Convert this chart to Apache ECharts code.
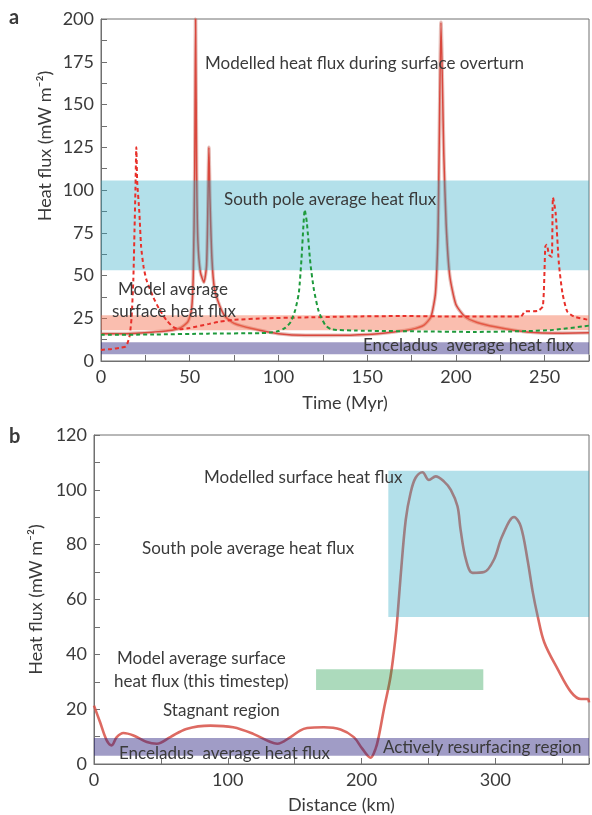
<!DOCTYPE html>
<html>
<head>
<meta charset="utf-8">
<script src="https://cdn.jsdelivr.net/npm/echarts@6/dist/echarts.min.js"></script>
<style>
html,body{margin:0;padding:0;background:#fff;}
#chart{width:592px;height:815px;}
</style>
</head>
<body>
<div id="chart"></div>
<script>
// ---------- Panel a data (Time, Myr / Heat flux, mW m-2) ----------
const aTimeTicks = [0, 50, 100, 150, 200, 250];
const aFluxTicks = [0, 25, 50, 75, 100, 125, 150, 175, 200];
const aOverturn = [
  [0,16],[10,16],[20,16.3],[30,17],[40,18],[45,19.5],[49,23],[51,30],[52,50],[52.8,110],[53.3,200],[53.9,110],
  [54.6,70],[56,52],[58,46],[59.5,56],[60.3,95],[60.8,125],[61.4,95],[62.5,60],[64,42],[67,32],[70,26],
  [75,22],[85,19],[100,16],[115,15],[130,15],[150,15.5],[165,17],[175,18.5],[182,21],[186,26],[188.5,40],
  [190,80],[191.6,198],[193.2,120],[194.5,80],[196.5,50],[200,33],[205,26],[212,22.5],[222,20],
  [240,17],[260,16.3],[275,16.5]
];
const aRedDashed = [
  [0,6.5],[6,7],[11,7.8],[14,8.5],[16,14],[17.2,25],[18.2,47],[18.9,77],[19.4,100],[19.9,125],[20.4,105],
  [21.6,87],[22.6,67],[24,55],[25.6,47.5],[29.3,37.7],[33,30],[36.8,24],[40.5,20],[44.3,18.5],[50,19.3],
  [61,21.7],[66.7,23],[74,24],[93,25],[111.5,25.4],[140,26],[170,26.3],[200,26],[236.6,26],[239,29],
  [246,29.3],[249,32],[250.4,67],[251.2,68],[252.5,62],[254,61],[254.7,95.6],[256.2,86.6],[258,57.4],
  [260,40],[262.7,29],[266.5,26],[275,24]
];
const aGreenDashed = [
  [0,15.3],[30,15.5],[60,16],[90,16.3],[95,16.6],[100,17.5],[104,19.5],[107,23],[109.5,30],[111.5,40],
  [113,60],[114,78],[114.8,88.5],[116,81],[118,57],[120,41.6],[122.7,29],[126.4,21],[130,18.5],[143,17.8],
  [180,17.3],[210,17],[240,17.5],[255,18.2],[275,20.7]
];
// bands: [xStart, xEnd, yLow, yHigh]
const aSouthPoleBand = [0, 275, 53, 105.5];
const aModelAvgBand = [0, 275, 18, 26.7];
const aEnceladusBand = [0, 275, 4, 11];

// ---------- Panel b data (Distance, km / Heat flux, mW m-2) ----------
const bDistTicks = [0, 100, 200, 300];
const bFluxTicks = [0, 20, 40, 60, 80, 100, 120];
const bSurface = [
  [0,21.3],[4.5,15.3],[9.5,8.6],[13.2,6.8],[17,9.8],[22,11.3],[29.5,10.4],[39.5,8],[47,7.4],[57,9.8],
  [69,12.8],[87,14],[104,13.4],[119,11],[132,8],[137,7.4],[146.8,9.8],[154,12.2],[159.3,13.1],[171.8,13.4],
  [184.3,12.6],[194.2,9.8],[200.5,5.6],[206.7,2.3],[210.5,5.6],[213,10.4],[216.7,20],[221.7,32],[225.5,46.7],
  [227.2,56],[229.2,68.5],[233,89],[236.7,99],[240.4,104.4],[245.5,106.4],[250.4,103.6],[255.4,104.9],
  [261.7,103],[266.7,100],[271.7,94],[274,85.5],[278,74.6],[283,69.7],[291.6,70],[299,74.6],[305,83],
  [314,90.1],[319,86.7],[324,74.6],[328,62.6],[331.6,54],[336.6,44.3],[346.6,34.6],[356.6,26.2],[364,23.7],
  [369,23.7],[370,22.5]
];
const bSouthPoleBand = [220, 370, 53.6, 107];
const bModelAvgBand = [166, 291, 27, 34.6];
const bEnceladusBand = [0, 370, 3, 9.5];

const FONT = 'Lato';
const AXIS_COLOR = '#707070';
const TEXT_COLOR = '#3a3a3a';
const Y_NAME = 'Heat flux (mW m\u207B\u00B2)';

function bandSeries(xi, yi, bands, z) {
  return {
    type: 'custom', xAxisIndex: xi, yAxisIndex: yi, z: z, silent: true,
    encode: { x: [0, 1], y: [2, 3] },
    renderItem: function (params, api) {
      const p0 = api.coord([api.value(0), api.value(3)]);
      const p1 = api.coord([api.value(1), api.value(2)]);
      return {
        type: 'rect',
        shape: { x: p0[0], y: p0[1], width: p1[0] - p0[0], height: p1[1] - p0[1] },
        style: api.style()
      };
    },
    data: bands
  };
}

function valueAxis(gi, min, max, interval, labelArr, name, nameGap, pos) {
  return {
    type: 'value', gridIndex: gi, min: min, max: max, interval: interval, position: pos,
    name: name, nameLocation: 'middle', nameGap: nameGap,
    nameTextStyle: { fontFamily: FONT, fontSize: 18, color: TEXT_COLOR },
    axisLine: { show: true, lineStyle: { color: AXIS_COLOR, width: 1 } },
    axisTick: { show: true, inside: true, length: 6, lineStyle: { color: AXIS_COLOR } },
    splitLine: { show: false },
    axisLabel: {
      fontFamily: FONT, fontSize: 18, color: TEXT_COLOR, margin: 7,
      formatter: function (v) { return labelArr.indexOf(v) >= 0 ? String(v) : ''; }
    }
  };
}

function txt(s, x, y, size, weight) {
  return {
    type: 'text', x: x, y: y, z: 100,
    style: { text: s, font: (weight || 'normal') + ' ' + (size || 17) + 'px ' + FONT, fill: TEXT_COLOR, textVerticalAlign: 'middle' }
  };
}

const chart = echarts.init(document.getElementById('chart'), null, { renderer: 'canvas' });
chart.setOption({
  animation: false,
  backgroundColor: '#fff',
  grid: [
    { left: 101, right: -1, top: 19, bottom: 454, show: true, borderColor: AXIS_COLOR, borderWidth: 1, backgroundColor: 'transparent' },
    { left: 94, right: 2, top: 435, bottom: 50, show: true, borderColor: AXIS_COLOR, borderWidth: 1, backgroundColor: 'transparent' }
  ],
  xAxis: [
    valueAxis(0, 0, 275, 25, aTimeTicks, 'Time (Myr)', 33, 'bottom'),
    valueAxis(1, 0, 370, 50, bDistTicks, 'Distance (km)', 32, 'bottom')
  ],
  yAxis: [
    valueAxis(0, 0, 200, 12.5, aFluxTicks, '', 46, 'left'),
    valueAxis(1, 0, 120, 10, bFluxTicks, Y_NAME, 42, 'left')
  ],
  graphic: [
    txt('a', 9, 18, 20, 'bold'),
    txt('b', 9, 437, 20, 'bold'),
    { type: 'text', x: 45, y: 146, rotation: Math.PI / 2, z: 100,
      style: { text: Y_NAME, font: 'normal 18px ' + FONT, fill: TEXT_COLOR, textAlign: 'center', textVerticalAlign: 'middle' } },
    txt('Modelled heat flux during surface overturn', 205, 64),
    txt('South pole average heat flux', 224, 200),
    txt('Model average', 118, 290),
    txt('surface heat flux', 112, 312),
    txt('Enceladus  average heat flux', 363, 346),
    txt('Modelled surface heat flux', 204, 478),
    txt('South pole average heat flux', 142, 549),
    txt('Model average surface', 117, 659),
    txt('heat flux (this timestep)', 114, 682),
    txt('Stagnant region', 163, 711),
    txt('Enceladus  average heat flux', 119, 754),
    txt('Actively resurfacing region', 383, 748)
  ],
  series: [
    { type: 'line', xAxisIndex: 0, yAxisIndex: 0, z: 2, data: aOverturn, showSymbol: false, smooth: 0.2,
      lineStyle: { color: 'rgba(200,110,100,0.45)', width: 3.6 } },
    { type: 'line', xAxisIndex: 0, yAxisIndex: 0, z: 2, data: aOverturn, showSymbol: false, smooth: 0.2,
      lineStyle: { color: '#d9483e', width: 1.5 } },
    bandSeries(0, 0, [
      { value: aSouthPoleBand, itemStyle: { color: 'rgb(38,166,195)', opacity: 0.35 } },
      { value: aModelAvgBand, itemStyle: { color: 'rgb(244,111,77)', opacity: 0.45 } },
      { value: aEnceladusBand, itemStyle: { color: 'rgb(44,35,128)', opacity: 0.45 } }
    ], 3),
    { type: 'line', xAxisIndex: 0, yAxisIndex: 0, z: 4, data: aRedDashed, showSymbol: false, smooth: 0.2,
      lineStyle: { color: '#e8302a', width: 2, type: [4, 3] } },
    { type: 'line', xAxisIndex: 0, yAxisIndex: 0, z: 4, data: aGreenDashed, showSymbol: false, smooth: 0.2,
      lineStyle: { color: '#1e9a3c', width: 2, type: [4, 3] } },

    { type: 'line', xAxisIndex: 1, yAxisIndex: 1, z: 2, data: bSurface, showSymbol: false, smooth: 0.35,
      lineStyle: { color: 'rgba(215,80,70,0.85)', width: 2.6 } },
    bandSeries(1, 1, [
      { value: bSouthPoleBand, itemStyle: { color: 'rgb(38,166,195)', opacity: 0.35 } },
      { value: bModelAvgBand, itemStyle: { color: 'rgb(18,149,64)', opacity: 0.35 } },
      { value: bEnceladusBand, itemStyle: { color: 'rgb(44,35,128)', opacity: 0.45 } }
    ], 3)
  ]
});
</script>
</body>
</html>
